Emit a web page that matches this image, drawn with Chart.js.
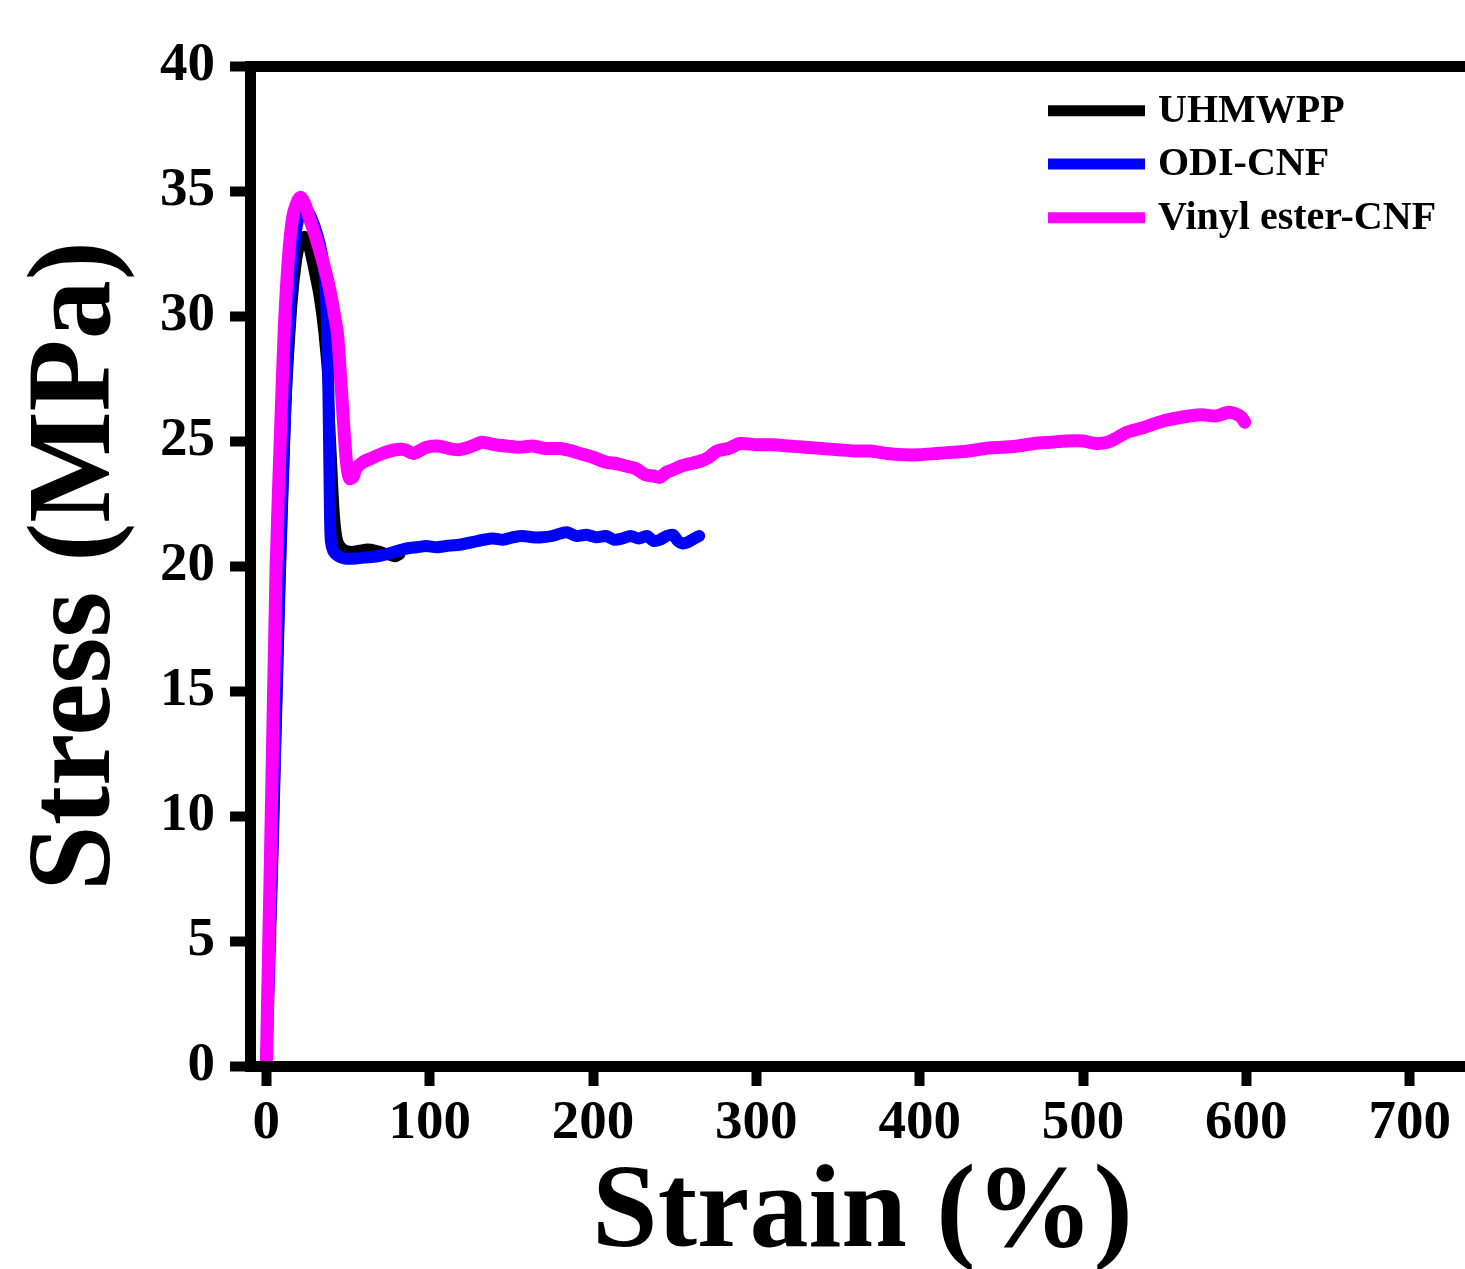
<!DOCTYPE html>
<html>
<head>
<meta charset="utf-8">
<script src="https://cdn.jsdelivr.net/npm/chart.js@4.4.1/dist/chart.umd.min.js"></script>
<style>
  html, body { margin: 0; padding: 0; background: #fff; overflow: hidden; }
  #wrap { position: absolute; left: 0; top: 0; width: 1500px; height: 1269px; }
</style>
</head>
<body>
<div id="wrap"><canvas id="stress-strain-chart" width="1500" height="1269"></canvas></div>
<script>
// tick labels
const strainTicks = [0, 100, 200, 300, 400, 500, 600, 700];
const stressTicks = [0, 5, 10, 15, 20, 25, 30, 35, 40];

// series names / colours
const seriesNames = ['UHMWPP', 'ODI-CNF', 'Vinyl ester-CNF'];
const seriesColors = ['#000000', '#0000ff', '#ff00ff'];

// UHMWPP (black)
const uhmwppStrain = [0, 4, 8, 12, 16, 19, 21.5, 23.5, 26, 29, 32, 35, 38, 40, 42, 44, 47, 52, 57, 62, 67, 72, 76, 79, 82];
const uhmwppStress = [0, 8, 18, 26, 30.5, 32.3, 33, 33.2, 32.7, 31.8, 30.8, 29.3, 27, 24.5, 22, 21, 20.7, 20.6, 20.65, 20.7, 20.65, 20.55, 20.4, 20.35, 20.45];

// ODI-CNF (blue)
const odiStrain = [0, 4, 8, 12, 15, 18, 21, 24, 27, 30, 33, 35.5, 37, 38, 38.6, 39, 39.5, 41, 44, 48, 55, 62, 69, 75, 80, 86, 92, 98, 104, 110, 118, 126, 133, 139, 145, 151, 157, 163, 169, 175, 180, 184, 190, 196, 202, 208, 213, 218, 223, 228, 233, 237, 241, 245, 249, 252, 255, 258, 262, 265];
const odiStress = [0, 9, 19, 27, 31, 33.3, 34.2, 34.3, 34, 33.5, 32.8, 31.8, 30, 27, 24, 22, 21, 20.6, 20.4, 20.3, 20.3, 20.35, 20.4, 20.5, 20.6, 20.7, 20.75, 20.8, 20.75, 20.8, 20.85, 20.95, 21.05, 21.1, 21.05, 21.15, 21.2, 21.15, 21.15, 21.2, 21.3, 21.35, 21.2, 21.25, 21.15, 21.2, 21.05, 21.1, 21.2, 21.1, 21.2, 21.0, 21.05, 21.2, 21.25, 21.0, 20.9, 20.95, 21.1, 21.2];

// Vinyl ester-CNF (magenta)
const vinylStrain = [0, 3, 6, 8.5, 11, 13.5, 16, 18.5, 21, 23.5, 26.5, 30, 34.5, 38, 41, 43.5, 45, 46.5, 48, 49.5, 51, 53, 55, 59, 64, 71, 79, 85, 90, 98, 105, 112, 118, 126, 132, 140, 147, 155, 163, 171, 180, 187, 192, 200, 208, 214, 220, 226, 232, 237, 241, 245, 249, 254, 260, 266, 271, 276, 283, 290, 300, 310, 320, 330, 340, 350, 360, 370, 380, 390, 400, 410, 420, 430, 440, 450, 460, 470, 480, 490, 500, 508, 515, 520, 527, 535, 542, 549, 556, 565, 573, 581, 589, 593, 597, 599];
const vinylStress = [0, 10, 20, 25, 29.5, 32.3, 33.9, 34.5, 34.75, 34.5, 33.9, 33.2, 32.2, 31.3, 30.3, 29.3, 28, 26.5, 25, 23.9, 23.5, 23.55, 23.9, 24.15, 24.3, 24.5, 24.65, 24.65, 24.5, 24.75, 24.8, 24.7, 24.65, 24.8, 24.95, 24.85, 24.8, 24.75, 24.8, 24.7, 24.7, 24.6, 24.5, 24.35, 24.15, 24.1, 24.0, 23.9, 23.65, 23.6, 23.55, 23.75, 23.85, 24.0, 24.1, 24.2, 24.35, 24.6, 24.7, 24.9, 24.85, 24.85, 24.8, 24.75, 24.7, 24.65, 24.6, 24.6, 24.5, 24.45, 24.45, 24.5, 24.55, 24.6, 24.7, 24.75, 24.8, 24.9, 24.95, 25.0, 25.0, 24.9, 24.95, 25.1, 25.35, 25.5, 25.65, 25.8, 25.9, 26.0, 26.05, 26.0, 26.15, 26.1, 25.95, 25.75];

const FONT = '"Liberation Serif", "Times New Roman", serif';

function toPoints(xs, ys) {
    return xs.map((x, i) => ({x: x, y: ys[i]}));
}

// legend drawn inside the plot, top right
const insideLegend = {
    id: 'insideLegend',
    afterDraw(chart) {
        const ctx = chart.ctx;
        const area = chart.chartArea;
        const x0 = area.left + 798;
        const rows = [44.7, 98, 151.7];
        ctx.save();
        ctx.font = 'bold 40px ' + FONT;
        ctx.textBaseline = 'middle';
        ctx.fillStyle = '#000';
        seriesNames.forEach((name, i) => {
            const y = area.top + rows[i];
            ctx.strokeStyle = seriesColors[i];
            ctx.lineWidth = 11;
            ctx.beginPath();
            ctx.moveTo(x0, y);
            ctx.lineTo(x0 + 97, y);
            ctx.stroke();
            ctx.fillText(name, x0 + 110, y + 1);
        });
        ctx.restore();
    }
};

const data = {
    datasets: [
        {
            label: seriesNames[0],
            data: toPoints(uhmwppStrain, uhmwppStress),
            borderColor: seriesColors[0],
            borderWidth: 10,
            order: 3
        },
        {
            label: seriesNames[1],
            data: toPoints(odiStrain, odiStress),
            borderColor: seriesColors[1],
            borderWidth: 12,
            order: 2
        },
        {
            label: seriesNames[2],
            data: toPoints(vinylStrain, vinylStress),
            borderColor: seriesColors[2],
            borderWidth: 13,
            order: 1
        }
    ]
};

const config = {
    type: 'line',
    data,
    options: {
        responsive: false,
        animation: false,
        events: [],
        layout: {padding: {top: 66, right: 25, left: 0, bottom: 0}},
        elements: {
            point: {radius: 0},
            line: {tension: 0.25, borderCapStyle: 'round', borderJoinStyle: 'round', fill: false}
        },
        plugins: {
            legend: {display: false},
            tooltip: {enabled: false}
        },
        scales: {
            x: {
                type: 'linear',
                position: 'bottom',
                min: -10,
                max: 740,
                afterBuildTicks: (scale) => { scale.ticks = strainTicks.map(v => ({value: v})); },
                afterFit: (scale) => { scale.height = 203; },
                grid: {
                    drawOnChartArea: false,
                    tickColor: '#000',
                    tickWidth: 10,
                    tickLength: 20
                },
                border: {display: true, color: '#000', width: 11, z: 1},
                ticks: {
                    color: '#000',
                    padding: 5,
                    maxRotation: 0,
                    font: {family: FONT, size: 55, weight: 'bold'}
                },
                title: {
                    display: true,
                    text: 'Strain (%)',
                    color: '#000',
                    padding: 0,
                    font: {family: FONT, size: 118, weight: 'bold', lineHeight: 0.9}
                }
            },
            y: {
                type: 'linear',
                min: 0,
                max: 40,
                afterBuildTicks: (scale) => { scale.ticks = stressTicks.map(v => ({value: v})); },
                afterFit: (scale) => { scale.width = 250; },
                grid: {
                    color: (c) => (c.tick && c.tick.value === 40 ? '#000' : 'rgba(0,0,0,0)'),
                    lineWidth: 11,
                    tickColor: '#000',
                    tickWidth: 10,
                    tickLength: 20
                },
                border: {display: true, color: '#000', width: 11, z: 1},
                ticks: {
                    color: '#000',
                    padding: 15,
                    font: {family: FONT, size: 55, weight: 'bold'}
                },
                title: {
                    display: true,
                    text: 'Stress (MPa)',
                    color: '#000',
                    padding: {top: 25, bottom: 0},
                    font: {family: FONT, size: 118, weight: 'bold', lineHeight: 0.9}
                }
            }
        }
    },
    plugins: [insideLegend]
};

const stressChart = new Chart(document.getElementById('stress-strain-chart'), config);
</script>
</body>
</html>
